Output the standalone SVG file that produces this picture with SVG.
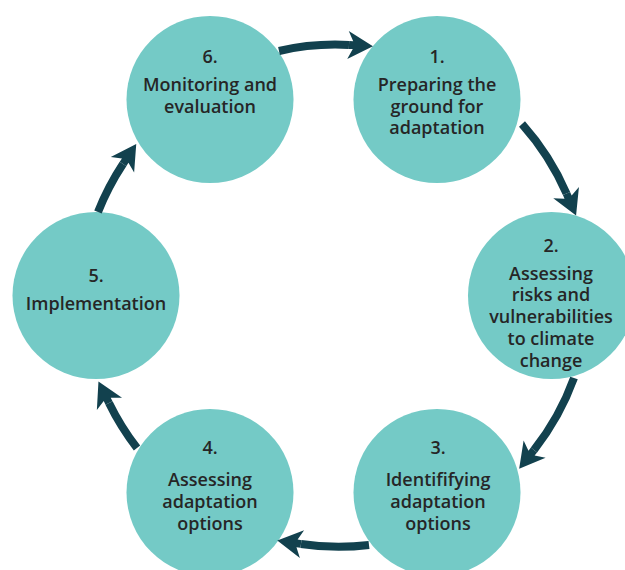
<svg xmlns="http://www.w3.org/2000/svg" width="625" height="570" viewBox="0 0 625 570">
  <style>
    .node { fill: #74cac6; }
    .label { font-family: "Open Sans", "Noto Sans", "Liberation Sans", sans-serif; font-size: 18px; font-weight: 600; fill: #262626; text-anchor: middle; }
    .conn { fill: none; stroke: #12414e; stroke-width: 8; marker-end: url(#head); }
  </style>
  <defs>
    <marker id="head" markerUnits="userSpaceOnUse" viewBox="-5 -16 32 32" markerWidth="32" markerHeight="32" refX="0" refY="0" orient="auto" overflow="visible">
      <path d="M24,0 L-1,-14 L4,-3.9 L0,-3.9 L0,3.9 L4,3.9 L-1,14 Z" fill="#12414e"/>
    </marker>
  </defs>
  <rect width="625" height="570" fill="#ffffff"/>

  <g id="node-6">
    <circle class="node" cx="210" cy="99.5" r="83.5"/>
    <text class="label" x="210" y="63">6.</text>
    <text class="label" x="210" y="91">Monitoring and</text>
    <text class="label" x="210" y="112.5">evaluation</text>
  </g>
  <g id="node-1">
    <circle class="node" cx="437" cy="99.5" r="83.5"/>
    <text class="label" x="437" y="63">1.</text>
    <text class="label" x="437" y="91">Preparing the</text>
    <text class="label" x="437" y="112.5">ground for</text>
    <text class="label" x="437" y="134">adaptation</text>
  </g>
  <g id="node-2">
    <circle class="node" cx="551.5" cy="295.5" r="83.5"/>
    <text class="label" x="551" y="252">2.</text>
    <text class="label" x="551" y="279.5">Assessing</text>
    <text class="label" x="551" y="301">risks and</text>
    <text class="label" x="551" y="323">vulnerabilities</text>
    <text class="label" x="551" y="345">to climate</text>
    <text class="label" x="551" y="367">change</text>
  </g>
  <g id="node-3">
    <circle class="node" cx="437" cy="492.5" r="83.5"/>
    <text class="label" x="438" y="453.5">3.</text>
    <text class="label" x="438" y="486">Identififying</text>
    <text class="label" x="438" y="508">adaptation</text>
    <text class="label" x="438" y="529.5">options</text>
  </g>
  <g id="node-4">
    <circle class="node" cx="210" cy="492.5" r="83.5"/>
    <text class="label" x="210" y="453.5">4.</text>
    <text class="label" x="210" y="486">Assessing</text>
    <text class="label" x="210" y="508">adaptation</text>
    <text class="label" x="210" y="529.5">options</text>
  </g>
  <g id="node-5">
    <circle class="node" cx="96" cy="295.5" r="83.5"/>
    <text class="label" x="96" y="282">5.</text>
    <text class="label" x="96" y="310">Implementation</text>
  </g>

  <g id="connectors">
    <path class="conn" d="M279,51 A250,250 0 0 1 349,45"/>
    <path class="conn" d="M522,124 A260,260 0 0 1 566.5,193.5"/>
    <path class="conn" d="M574,378 A260,260 0 0 1 534,450"/>
    <path class="conn" d="M369,545 A250,250 0 0 1 301,544"/>
    <path class="conn" d="M137,448 A260,260 0 0 1 109,403"/>
    <path class="conn" d="M98,212 A260,260 0 0 1 123,164"/>
  </g>
</svg>
